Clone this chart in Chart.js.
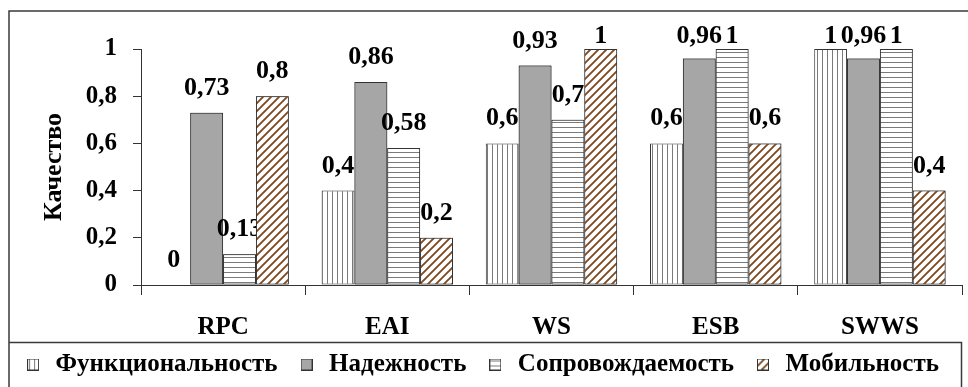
<!DOCTYPE html>
<html><head><meta charset="utf-8">
<script src="https://cdn.jsdelivr.net/npm/chart.js@4/dist/chart.umd.min.js"></script>
<style>html,body{margin:0;padding:0;background:#fff;overflow:hidden}</style>
</head><body>
<canvas id="c" width="968" height="387" style="display:block;width:968px;height:387px"></canvas>
<script>
// ---- data ----
const categories = ['RPC', 'EAI', 'WS', 'ESB', 'SWWS'];
const seriesNames = ['Функциональность', 'Надежность', 'Сопровождаемость', 'Мобильность'];
const functionality   = [0, 0.4, 0.6, 0.6, 1];
const reliability     = [0.73, 0.86, 0.93, 0.96, 0.96];
const maintainability = [0.13, 0.58, 0.7, 1, 1];
const mobility        = [0.8, 0.2, 1, 0.6, 0.4];
const yTickValues = [0, 0.2, 0.4, 0.6, 0.8, 1];
const yTickLabels = ['0', '0,2', '0,4', '0,6', '0,8', '1'];
const yTitle = 'Качество';

// ---- styles ----
const FONT = "'Liberation Serif','Times New Roman',serif";
const EDGE = '#333333';

function makeTile(kind) {
  const c = document.createElement('canvas');
  const g = c.getContext('2d');
  if (kind === 'v') {
    c.width = 5; c.height = 5;
    g.fillStyle = '#fff'; g.fillRect(0, 0, 5, 5);
    g.fillStyle = '#7a7a7a'; g.fillRect(2, 0, 1, 5);
  } else if (kind === 'h') {
    c.width = 5; c.height = 5;
    g.fillStyle = '#fff'; g.fillRect(0, 0, 5, 5);
    g.fillStyle = '#7a7a7a'; g.fillRect(0, 2, 5, 1);
  } else if (kind === 'd') {
    c.width = 8; c.height = 8;
    g.fillStyle = '#fff'; g.fillRect(0, 0, 8, 8);
    g.strokeStyle = '#7e4a22'; g.lineWidth = 1.9;
    g.beginPath();
    g.moveTo(-2, 10); g.lineTo(10, -2);
    g.moveTo(-6, 6); g.lineTo(6, -6);
    g.moveTo(2, 14); g.lineTo(14, 2);
    g.stroke();
  } else {
    c.width = 4; c.height = 4;
    g.fillStyle = kind; g.fillRect(0, 0, 4, 4);
  }
  return c;
}
const ctx0 = document.getElementById('c').getContext('2d');
const tiles = [makeTile('v'), makeTile('#a6a6a6'), makeTile('h'), makeTile('d')];
const fills = tiles.map(t => ctx0.createPattern(t, 'repeat'));

function makeIcon(i) {
  const c = document.createElement('canvas');
  c.width = 12; c.height = 12;
  const g = c.getContext('2d');
  g.fillStyle = g.createPattern(tiles[i], 'repeat');
  g.fillRect(0, 0, 12, 12);
  g.strokeStyle = EDGE; g.lineWidth = 1;
  g.strokeRect(0.5, 0.5, 11, 11);
  return c;
}
const icons = [0, 1, 2, 3].map(makeIcon);

const seriesValues = [functionality, reliability, maintainability, mobility];

const labelPlugin = {
  id: 'valueLabels',
  afterDatasetsDraw(chart) {
    const ctx = chart.ctx;
    const n = chart.data.datasets.length;
    for (let i = 0; i < n; i++) {
      const meta = chart.getDatasetMeta(i);
      if (i > 0) meta.controller.draw();
      ctx.save();
      ctx.font = 'bold 26px ' + FONT;
      ctx.fillStyle = '#000';
      ctx.textAlign = 'center';
      ctx.textBaseline = 'alphabetic';
      meta.data.forEach((bar, j) => {
        const v = chart.data.datasets[i].data[j];
        const txt = String(v).replace('.', ',');
        const y = Math.max(bar.y - 18, 43);
        ctx.fillText(txt, bar.x, y);
      });
      ctx.restore();
    }
  }
};

const framePlugin = {
  id: 'frame',
  beforeDraw(chart) {
    const ctx = chart.ctx;
    ctx.save();
    ctx.fillStyle = '#fff';
    ctx.fillRect(0, 0, chart.width, chart.height);
    ctx.restore();
  },
  afterDraw(chart) {
    const ctx = chart.ctx;
    ctx.save();
    ctx.strokeStyle = '#3a3a3a';
    ctx.lineWidth = 1.5;
    ctx.beginPath();
    ctx.moveTo(9, 400); ctx.lineTo(9, 11); ctx.lineTo(980, 11);
    ctx.moveTo(9, 342.5); ctx.lineTo(961.5, 342.5); ctx.lineTo(961.5, 400);
    ctx.stroke();
    ctx.restore();
  }
};

new Chart(document.getElementById('c'), {
  type: 'bar',
  data: {
    labels: categories,
    datasets: seriesNames.map((name, i) => ({
      label: name,
      data: seriesValues[i],
      backgroundColor: fills[i],
      borderColor: EDGE,
      borderWidth: 1,
      borderSkipped: false,
      categoryPercentage: 0.8,
      barPercentage: 1.0
    }))
  },
  options: {
    responsive: false,
    animation: false,
    devicePixelRatio: 1,
    layout: { padding: { top: 49, right: 6, bottom: 0, left: 0 } },
    plugins: {
      tooltip: { enabled: false },
      legend: {
        position: 'bottom',
        labels: {
          color: '#000',
          font: { family: FONT, size: 25, weight: 'bold' },
          padding: 19,
          usePointStyle: true,
          pointStyleWidth: 20,
          generateLabels(chart) {
            const items = Chart.defaults.plugins.legend.labels.generateLabels(chart);
            items.forEach((it, i) => { it.pointStyle = icons[i]; });
            return items;
          }
        }
      }
    },
    scales: {
      x: {
        grid: { offset: true, drawOnChartArea: false, drawTicks: true, tickLength: 10, color: EDGE, lineWidth: 1 },
        border: { display: true, color: EDGE, width: 1 },
        ticks: { color: '#000', padding: 18, font: { family: FONT, size: 25, weight: 'bold' } },
        afterFit(s) { s.height = 48; s._computeLabelArea = () => undefined; }
      },
      y: {
        min: 0, max: 1,
        afterBuildTicks(s) { s.ticks = yTickValues.map(v => ({ value: v })); },
        grid: { drawOnChartArea: false, drawTicks: true, tickLength: 8, color: EDGE, lineWidth: 1 },
        border: { display: true, color: EDGE, width: 1 },
        ticks: {
          color: '#000', padding: 16,
          font: { family: FONT, size: 25, weight: 'bold' },
          callback(v, idx) { return yTickLabels[idx]; }
        },
        title: {
          display: true, text: yTitle, color: '#000',
          font: { family: FONT, size: 26, weight: 'bold' },
          padding: { top: 39, bottom: 0 }
        },
        afterFit(s) { s.width = 141; }
      }
    }
  },
  plugins: [framePlugin, labelPlugin]
});
</script>
</body></html>
